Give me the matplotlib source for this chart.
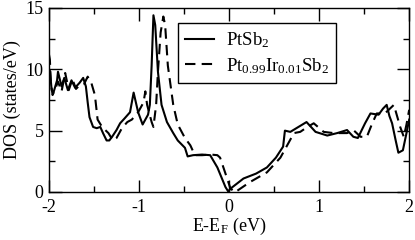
"""
DOS plot: PtSb2 vs Ir-doped PtSb2
"""

import matplotlib
matplotlib.use("Agg")
import matplotlib.pyplot as plt
from matplotlib.ticker import MultipleLocator

plt.rcParams["font.family"] = ["Liberation Serif", "DejaVu Serif"]
plt.rcParams["mathtext.fontset"] = "custom"
plt.rcParams["mathtext.rm"] = "Liberation Serif"
plt.rcParams["mathtext.it"] = "Liberation Serif:italic"
plt.rcParams["axes.unicode_minus"] = False

# --- PtSb2 (solid) ---
e_pure = [-2.00, -1.99, -1.97, -1.95, -1.91, -1.90, -1.86, -1.83, -1.79, -1.75,
          -1.71, -1.66, -1.62, -1.59, -1.57, -1.55, -1.51, -1.47, -1.43, -1.40,
          -1.36, -1.33, -1.29, -1.25, -1.21, -1.16, -1.10, -1.06, -1.01, -0.96,
          -0.90, -0.88, -0.86, -0.84, -0.82, -0.79, -0.75, -0.69, -0.62, -0.57,
          -0.49, -0.46, -0.40, -0.30, -0.21, -0.13, -0.04, -0.01, 0.02, 0.16,
          0.30, 0.42, 0.52, 0.60, 0.62, 0.68, 0.77, 0.86, 0.96, 1.09,
          1.20, 1.31, 1.38, 1.43, 1.51, 1.57, 1.66, 1.71, 1.75, 1.78,
          1.81, 1.85, 1.88, 1.93, 1.97, 2.00]
dos_pure = [10.0, 9.9, 8.3, 8.1, 9.1, 9.8, 8.6, 9.3, 8.3, 9.1,
            8.5, 8.9, 9.3, 8.6, 7.3, 6.1, 5.3, 5.2, 5.3, 4.8,
            4.2, 4.2, 4.6, 5.05, 5.6, 6.0, 6.5, 8.1, 6.5, 5.5,
            6.3, 7.1, 10.3, 14.4, 13.6, 9.8, 7.1, 5.7, 4.8, 4.2,
            3.6, 2.9, 3.0, 3.05, 3.0, 2.0, 0.4, 0.05, 0.3, 1.1,
            1.5, 2.0, 2.8, 3.7, 5.0, 4.9, 5.3, 5.7, 4.9, 4.6,
            4.8, 5.05, 4.5, 4.4, 5.6, 6.4, 6.3, 6.8, 7.1, 6.2,
            5.6, 4.2, 3.2, 3.4, 4.8, 5.9]

# --- Pt0.99Ir0.01Sb2 (dashed) ---
e_doped = [-2.00, -1.99, -1.98, -1.96, -1.93, -1.90, -1.86, -1.82, -1.78, -1.74,
           -1.70, -1.66, -1.61, -1.57, -1.53, -1.49, -1.46, -1.41, -1.34, -1.29,
           -1.25, -1.19, -1.13, -1.08, -1.01, -0.95, -0.93, -0.91, -0.86, -0.84,
           -0.81, -0.79, -0.76, -0.73, -0.71, -0.68, -0.62, -0.57, -0.49, -0.43,
           -0.38, -0.30, -0.20, -0.13, -0.10, -0.04, 0.01, 0.05, 0.07, 0.23,
           0.42, 0.57, 0.66, 0.72, 0.79, 0.87, 0.94, 1.05, 1.16, 1.31,
           1.38, 1.46, 1.53, 1.59, 1.64, 1.73, 1.83, 1.90, 1.94, 1.97, 2.00]
dos_doped = [11.2, 10.8, 9.0, 7.9, 8.4, 9.0, 8.2, 9.7, 8.3, 9.2,
             8.4, 8.7, 8.8, 9.4, 8.9, 7.9, 5.9, 5.3, 4.8, 4.2,
             4.4, 5.2, 5.7, 5.9, 6.5, 7.3, 8.2, 7.1, 5.7, 5.3,
             7.1, 9.8, 13.0, 14.3, 13.6, 10.3, 7.1, 5.5, 4.4, 3.8,
             3.0, 3.0, 3.05, 3.0, 2.8, 1.5, 0.4, 0.0, 0.0, 0.8,
             1.6, 2.8, 4.0, 4.8, 4.9, 5.3, 5.6, 4.9, 4.8, 4.8,
             5.05, 4.5, 4.5, 5.6, 6.4, 6.4, 7.1, 5.3, 4.5, 5.5, 6.7]

fig = plt.figure(figsize=(4.15, 2.4), dpi=100)
ax = fig.add_axes([0.118, 0.2, 0.868, 0.767])

ax.plot(e_pure, dos_pure, color="black", lw=1.5, label="PtSb$_2$")
ax.plot(e_doped, dos_doped, color="black", lw=1.5, dashes=(5, 3),
        label="Pt$_{0.99}$Ir$_{0.01}$Sb$_2$")

ax.set_xlim(-2, 2)
ax.set_ylim(0, 15)
ax.xaxis.set_major_locator(MultipleLocator(1))
ax.xaxis.set_minor_locator(MultipleLocator(0.5))
ax.yaxis.set_major_locator(MultipleLocator(5))
ax.yaxis.set_minor_locator(MultipleLocator(2.5))
ax.tick_params(which="both", direction="in", top=True, right=True,
               labelsize=13, width=1)
ax.tick_params(which="major", length=9)
ax.tick_params(which="minor", length=4.5)
ax.tick_params(axis="x", pad=5)
ax.tick_params(axis="y", pad=4)
for s in ax.spines.values():
    s.set_linewidth(1)

ax.set_xlabel("E-E$_\\mathrm{F}$ (eV)", fontsize=13, labelpad=0)
ax.set_ylabel("DOS (states/eV)", fontsize=13, labelpad=3)

leg = ax.legend(loc="upper left", bbox_to_anchor=(0.358, 0.918),
                borderaxespad=0, fancybox=False, edgecolor="black",
                framealpha=1, fontsize=13.5, handlelength=1.55,
                handletextpad=0.6, labelspacing=0.3, borderpad=0.4)
leg.get_frame().set_linewidth(1)

plt.savefig("out.png", dpi=100)
plt.close()
